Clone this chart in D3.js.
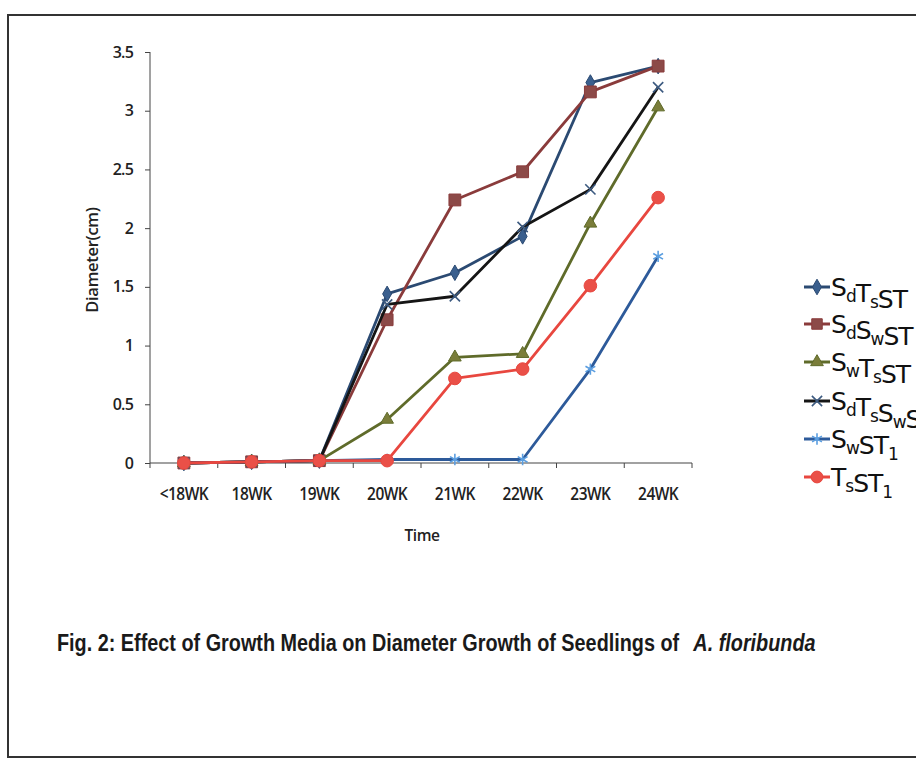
<!DOCTYPE html>
<html>
<head>
<meta charset="utf-8">
<script src="https://cdn.jsdelivr.net/npm/d3@7"></script>
<style>
    body { margin: 0; background: #fff; }
    .tick text { font-family: "Open Sans", sans-serif; font-weight: 600; fill: #222; }
    .axis path, .axis line { stroke: #444; }
</style>
</head>
<body>
<div id="chart"></div>
<script>
(function() {
    var width = 916, height = 760;

    // categories on the time axis
    var weeks = ["<18WK", "18WK", "19WK", "20WK", "21WK", "22WK", "23WK", "24WK"];
    var yTicks = [0, 0.5, 1, 1.5, 2, 2.5, 3, 3.5];

    // diameter (cm) per treatment
    var sdTsST   = [0, 0.01, 0.02, 1.44, 1.62, 1.93, 3.24, 3.38];
    var sdSwST   = [0, 0.01, 0.02, 1.22, 2.24, 2.48, 3.16, 3.38];
    var swTsST   = [0, 0.01, 0.02, 0.37, 0.90, 0.93, 2.04, 3.03];
    var sdTsSwST = [0, 0.01, 0.02, 1.35, 1.42, 2.01, 2.33, 3.20];
    var swST1    = [0, 0.01, 0.02, 0.03, 0.03, 0.03, 0.80, 1.76];
    var tsST1    = [0, 0.01, 0.02, 0.02, 0.72, 0.80, 1.51, 2.26];

    // legend labels as [main, subscript] pieces
    var labels = [
        [["S", "d"], ["T", "s"], ["ST", ""]],
        [["S", "d"], ["S", "w"], ["ST", ""]],
        [["S", "w"], ["T", "s"], ["ST", ""]],
        [["S", "d"], ["T", "s"], ["S", "w"], ["ST", ""]],
        [["S", "w"], ["ST", "1"]],
        [["T", "s"], ["ST", "1"]]
    ];

    var series = [
        {values: sdTsST,   line: "#2b4a72", mark: "#3a5f8e", symbol: d3.symbolDiamond, size: 70, stroked: false},
        {values: sdSwST,   line: "#8a3b3b", mark: "#8c4a48", symbol: d3.symbolSquare, size: 140, stroked: false},
        {values: swTsST,   line: "#5f6b2a", mark: "#7a7d3a", symbol: d3.symbolTriangle, size: 70, stroked: false},
        {values: sdTsSwST, line: "#151515", mark: "#3c5a80", symbol: d3.symbolTimes, size: 70, stroked: true},
        {values: swST1,    line: "#2d5a9a", mark: "#5b9ee0", symbol: d3.symbolAsterisk, size: 90, stroked: true},
        {values: tsST1,    line: "#e8473f", mark: "#ea5048", symbol: d3.symbolCircle, size: 125, stroked: false}
    ];
    series.forEach(function(s, i) { s.label = labels[i]; });

    var svg = d3.select("#chart").append("svg")
        .attr("width", width)
        .attr("height", height);

    // scanned page frame
    svg.append("path")
        .attr("d", "M916,15 L8,15 L8,757 L916,757")
        .attr("fill", "none")
        .attr("stroke", "#333")
        .attr("stroke-width", 2);

    var xScale = d3.scaleBand().domain(weeks).range([150, 692]);
    var yScale = d3.scaleLinear().domain([0, 3.5]).range([463, 52]);

    var xAxis = svg.append("g")
        .attr("class", "axis axis--x")
        .attr("transform", "translate(0,463)")
        .call(d3.axisBottom(xScale).tickSize(0).tickPadding(24));
    xAxis.select(".domain").remove();
    // tall, narrow labels as in the scan
    xAxis.selectAll(".tick text")
        .style("font-size", "18px")
        .style("letter-spacing", "-0.6px")
        .attr("transform", "scale(0.86,1)");
    xAxis.append("line")
        .attr("x1", 150).attr("x2", 692)
        .attr("stroke", "#444").attr("stroke-width", 1.2);
    // tick marks between categories
    xAxis.selectAll(".sep")
        .data(weeks.concat(["end"]))
        .enter().append("line")
        .attr("class", "sep")
        .attr("x1", function(d, i) { return 150 + i * xScale.step(); })
        .attr("x2", function(d, i) { return 150 + i * xScale.step(); })
        .attr("y1", 0).attr("y2", 5)
        .attr("stroke", "#444");

    var yAxis = svg.append("g")
        .attr("class", "axis axis--y")
        .attr("transform", "translate(150,0)")
        .call(d3.axisLeft(yScale).tickValues(yTicks).tickSize(5).tickPadding(12)
            .tickFormat(function(d) { return d; }));
    yAxis.select(".domain").attr("d", "M-0,463V52");
    yAxis.selectAll(".tick text")
        .style("font-size", "16px")
        .style("letter-spacing", "-0.8px");

    svg.append("text")
        .attr("transform", "translate(98,260) rotate(-90)")
        .attr("text-anchor", "middle")
        .style("font-family", "'Open Sans', sans-serif")
        .style("font-weight", 600)
        .style("font-size", "16.5px")
        .style("letter-spacing", "-0.3px")
        .attr("fill", "#222")
        .text("Diameter(cm)");

    svg.append("text")
        .attr("x", 422).attr("y", 541)
        .attr("text-anchor", "middle")
        .style("font-family", "'Open Sans', sans-serif")
        .style("font-weight", 600)
        .style("font-size", "15.5px")
        .style("letter-spacing", "-0.5px")
        .attr("fill", "#222")
        .text("Time");

    var line = d3.line()
        .x(function(d, i) { return xScale(weeks[i]) + xScale.bandwidth() / 2; })
        .y(function(d) { return yScale(d); });

    series.forEach(function(s) {
        var g = svg.append("g").attr("class", "series");
        g.append("path")
            .attr("d", line(s.values))
            .attr("fill", "none")
            .attr("stroke", s.line)
            .attr("stroke-width", 2.8)
            .attr("stroke-linejoin", "round");

        g.selectAll(".mark")
            .data(s.values)
            .enter().append("path")
            .attr("class", "mark")
            .attr("transform", function(d, i) {
                return "translate(" + (xScale(weeks[i]) + xScale.bandwidth() / 2) + "," + yScale(d) + ")";
            })
            .attr("d", d3.symbol().type(s.symbol).size(s.size))
            .attr("fill", s.stroked ? "none" : s.mark)
            .attr("stroke", s.stroked ? s.mark : s.line)
            .attr("stroke-width", s.stroked ? 1.6 : 1);
    });

    // legend (handwritten labels on the scan run off the right edge)
    var legend = svg.append("g").attr("class", "legend");
    var legendY = [287, 324, 362, 401, 439, 477];

    series.forEach(function(s, i) {
        var row = legend.append("g").attr("transform", "translate(0," + legendY[i] + ")");
        row.append("line")
            .attr("x1", 804).attr("x2", 830)
            .attr("stroke", s.line).attr("stroke-width", 3);
        row.append("path")
            .attr("transform", "translate(817,0)")
            .attr("d", d3.symbol().type(s.symbol).size(Math.min(s.size, 110)))
            .attr("fill", s.stroked ? "none" : s.mark)
            .attr("stroke", s.stroked ? s.mark : s.line)
            .attr("stroke-width", s.stroked ? 1.6 : 1);

        var t = row.append("text")
            .attr("x", 831).attr("y", 9)
            .style("font-family", "'DejaVu Sans', sans-serif")
            .style("font-size", "25px")
            .style("letter-spacing", "-1px")
            .attr("fill", "#111");
        s.label.forEach(function(p) {
            t.append("tspan").attr("dy", 0).text(p[0]);
            if (p[1]) {
                t.append("tspan").attr("dy", 6).style("font-size", "17px").text(p[1]);
                t.append("tspan").attr("dy", -6).text("");
            }
        });
    });

    // figure caption, condensed bold like the scan
    var cap = svg.append("text")
        .style("font-family", "'Liberation Sans', sans-serif")
        .style("font-weight", "bold")
        .style("font-size", "23px")
        .attr("fill", "#1a1a1a");
    cap.append("tspan").text("Fig. 2: Effect of Growth Media on Diameter Growth of Seedlings of ");
    cap.append("tspan").attr("dx", 10).style("font-style", "italic").text("A. floribunda");
    var capLen = cap.node().getComputedTextLength();
    cap.attr("transform", "translate(57,651) scale(" + (750 / capLen) + ",1)");
})();
</script>
</body>
</html>
